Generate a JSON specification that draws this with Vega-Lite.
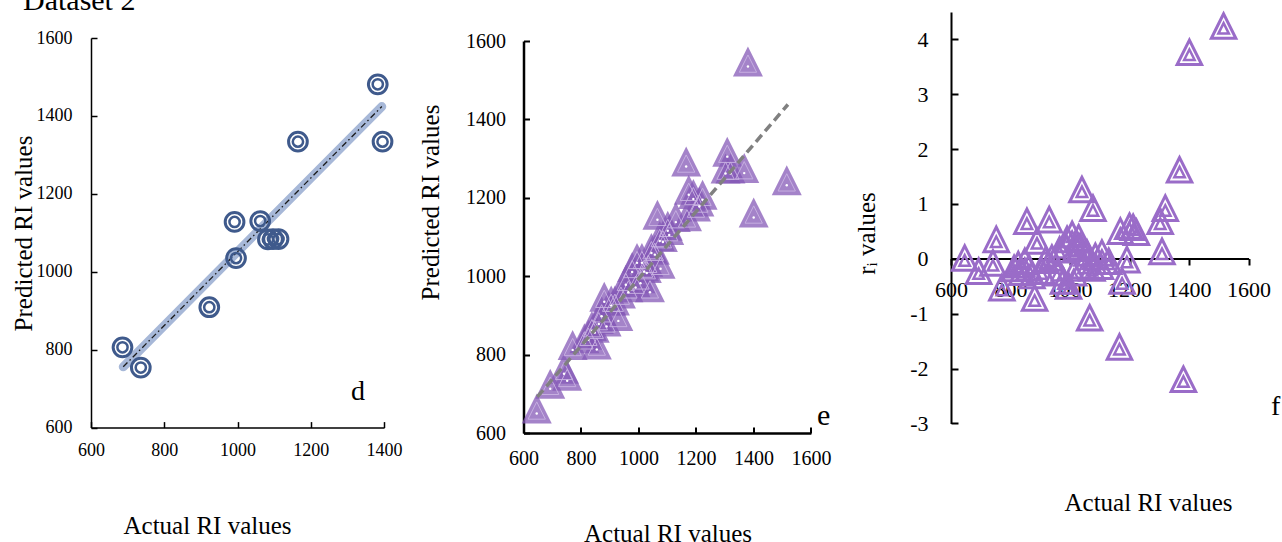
{
  "$schema": "https://vega.github.io/schema/vega-lite/v6.json",
  "autosize": {"type": "none"},
  "padding": {"left": 91, "top": 12, "right": 1191, "bottom": 530},
  "background": "white",
  "spacing": 139.5,
  "bounds": "flush",
  "config": {
    "view": {"stroke": null},
    "font": "Liberation Serif",
    "axis": {"grid": false, "domainColor": "black", "tickColor": "black", "labelColor": "black", "titleColor": "black", "labelFont": "Liberation Serif", "titleFont": "Liberation Serif", "titleFontWeight": "normal", "labelFlush": false, "labelOverlap": false, "titleFontSize": 25, "titleBaseline": "alphabetic", "format": "d"}
  },
  "datasets": {
    "dpts": [
      {"actual": 686, "pred": 806}, {"actual": 736, "pred": 754}, {"actual": 923, "pred": 909},
      {"actual": 992, "pred": 1128}, {"actual": 996, "pred": 1035}, {"actual": 1062, "pred": 1130},
      {"actual": 1083, "pred": 1083}, {"actual": 1097, "pred": 1084}, {"actual": 1112, "pred": 1084},
      {"actual": 1165, "pred": 1334}, {"actual": 1383, "pred": 1481}, {"actual": 1396, "pred": 1334}
    ],
    "dfit": [{"actual": 688, "pred": 756}, {"actual": 1394, "pred": 1424}],
    "efit": [{"actual": 648, "pred": 692}, {"actual": 1520, "pred": 1438}],
    "ef": [
      {"actual": 646, "pred": 650, "r": -0.06}, {"actual": 693, "pred": 713, "r": -0.30},
      {"actual": 741, "pred": 751, "r": -0.15}, {"actual": 752, "pred": 733, "r": 0.28},
      {"actual": 771, "pred": 812, "r": -0.60}, {"actual": 812, "pred": 829, "r": -0.25},
      {"actual": 826, "pred": 838, "r": -0.18}, {"actual": 838, "pred": 860, "r": -0.32},
      {"actual": 848, "pred": 856, "r": -0.12}, {"actual": 855, "pred": 813, "r": 0.61},
      {"actual": 862, "pred": 878, "r": -0.24}, {"actual": 872, "pred": 898, "r": -0.38},
      {"actual": 881, "pred": 935, "r": -0.79}, {"actual": 889, "pred": 872, "r": 0.25},
      {"actual": 905, "pred": 925, "r": -0.30}, {"actual": 918, "pred": 925, "r": -0.10},
      {"actual": 930, "pred": 886, "r": 0.64}, {"actual": 939, "pred": 943, "r": -0.06},
      {"actual": 956, "pred": 978, "r": -0.33}, {"actual": 965, "pred": 959, "r": 0.09},
      {"actual": 978, "pred": 1011, "r": -0.48}, {"actual": 990, "pred": 971, "r": 0.28},
      {"actual": 995, "pred": 1034, "r": -0.57}, {"actual": 1007, "pred": 982, "r": 0.37},
      {"actual": 1012, "pred": 1034, "r": -0.33}, {"actual": 1020, "pred": 1012, "r": 0.12},
      {"actual": 1029, "pred": 1008, "r": 0.31}, {"actual": 1034, "pred": 1024, "r": 0.15},
      {"actual": 1040, "pred": 959, "r": 1.19}, {"actual": 1045, "pred": 1059, "r": -0.20},
      {"actual": 1057, "pred": 1055, "r": 0.03}, {"actual": 1066, "pred": 1144, "r": -1.15},
      {"actual": 1074, "pred": 1090, "r": -0.24}, {"actual": 1077, "pred": 1019, "r": 0.85},
      {"actual": 1085, "pred": 1087, "r": -0.03}, {"actual": 1102, "pred": 1116, "r": -0.21},
      {"actual": 1107, "pred": 1105, "r": 0.03}, {"actual": 1130, "pred": 1138, "r": -0.12},
      {"actual": 1166, "pred": 1280, "r": -1.68}, {"actual": 1169, "pred": 1140, "r": 0.43},
      {"actual": 1175, "pred": 1208, "r": -0.48}, {"actual": 1191, "pred": 1197, "r": -0.09},
      {"actual": 1200, "pred": 1165, "r": 0.52}, {"actual": 1212, "pred": 1178, "r": 0.50},
      {"actual": 1223, "pred": 1195, "r": 0.41}, {"actual": 1303, "pred": 1262, "r": 0.61},
      {"actual": 1309, "pred": 1305, "r": 0.06}, {"actual": 1320, "pred": 1262, "r": 0.85},
      {"actual": 1368, "pred": 1263, "r": 1.55}, {"actual": 1381, "pred": 1535, "r": -2.27},
      {"actual": 1401, "pred": 1150, "r": 3.69}, {"actual": 1516, "pred": 1232, "r": 4.17}
    ]
  },
  "hconcat": [
    {
      "width": 293,
      "height": 415.6,
      "title": {"text": "Dataset 2", "anchor": "start", "frame": "group", "dx": -68, "offset": -28, "fontSize": 30, "font": "Liberation Serif", "fontWeight": "normal", "color": "black", "baseline": "alphabetic"},
      "encoding": {
        "x": {"field": "actual", "type": "quantitative", "scale": {"domain": [600, 1400], "nice": false, "zero": false},
              "axis": {"values": [600, 800, 1000, 1200, 1400], "tickSize": -6, "tickWidth": 1.5, "domainWidth": 1.5, "labelFontSize": 18, "labelPadding": 20, "title": "Actual RI values", "titleX": 116, "titleY": 106}},
        "y": {"field": "pred", "type": "quantitative", "scale": {"domain": [600, 1600], "nice": false, "zero": false, "range": [415.6, 26]},
              "axis": {"values": [600, 800, 1000, 1200, 1400, 1600], "tickSize": -6, "tickWidth": 1.5, "domainWidth": 1.5, "labelFontSize": 18, "labelPadding": 25, "title": "Predicted RI values", "titleX": -60, "titleY": 221}}
      },
      "layer": [
        {"data": {"name": "dfit"}, "mark": {"type": "line", "stroke": "#a7b8d8", "strokeWidth": 9, "strokeCap": "round"}},
        {"data": {"name": "dfit"}, "mark": {"type": "line", "stroke": "#1a1a1a", "strokeWidth": 1.3, "strokeDash": [6, 3, 1.5, 3]}},
        {"data": {"name": "dpts"}, "mark": {"type": "point", "shape": "circle", "size": 350, "filled": false, "stroke": "#3f5a8c", "strokeWidth": 3, "opacity": 1}},
        {"data": {"name": "dpts"}, "mark": {"type": "point", "shape": "circle", "size": 105, "filled": false, "stroke": "#3f5a8c", "strokeWidth": 2.5, "opacity": 1}},
        {"data": {"values": [{"label": "d", "actual": 1329, "pred": 671}]}, "mark": {"type": "text", "fontSize": 28, "font": "Liberation Serif", "baseline": "alphabetic", "align": "center", "color": "black"}, "encoding": {"text": {"field": "label"}}}
      ]
    },
    {
      "width": 287.4,
      "height": 421,
      "encoding": {
        "x": {"field": "actual", "type": "quantitative", "scale": {"domain": [600, 1600], "nice": false, "zero": false},
              "axis": {"values": [600, 800, 1000, 1200, 1400, 1600], "tickSize": -6, "tickWidth": 2, "domainWidth": 2.5, "labelFontSize": 20, "labelPadding": 21, "title": "Actual RI values", "titleX": 144, "titleY": 108}},
        "y": {"field": "pred", "type": "quantitative", "scale": {"domain": [600, 1600], "nice": false, "zero": false, "range": [421, 29]},
              "axis": {"values": [600, 800, 1000, 1200, 1400, 1600], "tickSize": -6, "tickWidth": 2, "domainWidth": 2.5, "labelFontSize": 20, "labelPadding": 24, "title": "Predicted RI values", "titleX": -85, "titleY": 190}}
      },
      "layer": [
        {"data": {"name": "ef"}, "mark": {"type": "point", "shape": "M0,-1.333L-1,0.667L1,0.667Z", "size": 900, "filled": true, "fill": "#865ab7", "fillOpacity": 0.75, "strokeWidth": 0, "opacity": 1}},
        {"data": {"name": "ef"}, "mark": {"type": "point", "shape": "M0,-1.333L-1,0.667L1,0.667Z", "size": 300, "filled": false, "stroke": "#cbb5e4", "strokeWidth": 1, "opacity": 0.9}},
        {"data": {"name": "ef"}, "mark": {"type": "point", "shape": "circle", "size": 6, "filled": true, "fill": "white", "opacity": 1}},
        {"data": {"name": "efit"}, "mark": {"type": "line", "stroke": "#808080", "strokeWidth": 3.5, "strokeDash": [9, 5]}},
        {"data": {"values": [{"label": "e", "actual": 1644, "pred": 620}]}, "mark": {"type": "text", "fontSize": 30, "font": "Liberation Serif", "baseline": "alphabetic", "align": "center", "color": "black"}, "encoding": {"text": {"field": "label"}}}
      ]
    },
    {
      "width": 297.6,
      "height": 411.4,
      "encoding": {
        "x": {"field": "actual", "type": "quantitative", "scale": {"domain": [600, 1600], "nice": false, "zero": false},
              "axis": {"values": [600, 800, 1000, 1200, 1400, 1600], "tickSize": 6.5, "tickWidth": 2, "domainWidth": 2, "offset": -164.9, "labelFontSize": 22, "labelPadding": 14, "title": "Actual RI values", "titleX": 197, "titleY": 251.5,
                       "encode": {"ticks": {"update": {"y": {"value": -6.5}}}}}},
        "y": {"field": "r", "type": "quantitative", "scale": {"domain": [-3, 4.5], "nice": false, "zero": false},
              "axis": {"values": [-3, -2, -1, 0, 1, 2, 3, 4], "tickSize": -7, "tickWidth": 2, "domainWidth": 2, "labelFontSize": 22, "labelPadding": 30, "labelExpr": "'' + datum.value", "title": "rᵢ values", "titleX": -77, "titleY": 221}}
      },
      "layer": [
        {"data": {"name": "ef"}, "mark": {"type": "point", "shape": "M0,-1.333L-1,0.667L1,0.667Z", "size": 600, "filled": false, "stroke": "#9a6cc8", "strokeWidth": 3, "opacity": 1}},
        {"data": {"name": "ef"}, "mark": {"type": "point", "shape": "M0,-1.333L-1,0.667L1,0.667Z", "size": 110, "filled": false, "stroke": "#9a6cc8", "strokeWidth": 2.5, "opacity": 1}},
        {"data": {"values": [{"label": "f", "actual": 1691, "r": -2.85}]}, "mark": {"type": "text", "fontSize": 28, "font": "Liberation Serif", "baseline": "alphabetic", "align": "center", "color": "black"}, "encoding": {"text": {"field": "label"}}}
      ]
    }
  ]
}
